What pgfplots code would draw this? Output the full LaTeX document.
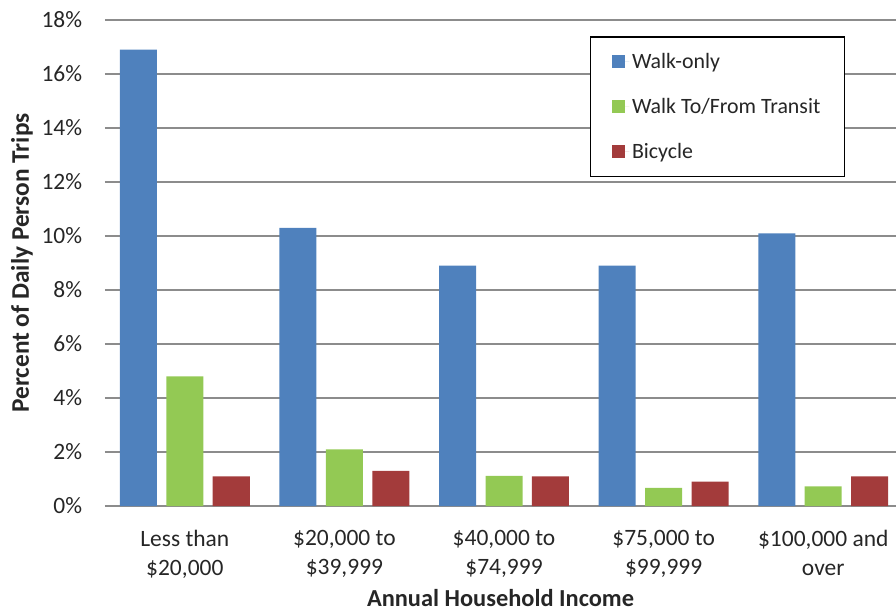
\documentclass[border=0pt]{standalone}
\usepackage{pgfplots}
\pgfplotsset{compat=1.18}
\usepackage{pgfplotstable}
\usepackage{fontspec}
\setmainfont{Carlito}

\definecolor{walk}{HTML}{4F81BD}
\definecolor{transit}{HTML}{93C954}
\definecolor{bike}{HTML}{A33B3B}
\definecolor{gridc}{HTML}{8C8C8C}
\definecolor{txt}{HTML}{262626}

% percent of daily person trips by household income
\pgfplotstableread{
x walk transit bike
0 16.9 4.8  1.1
1 10.3 2.1  1.3
2 8.9  1.12 1.1
3 8.9  0.67 0.9
4 10.1 0.73 1.1
}\trips

\begin{document}
\begin{tikzpicture}
\begin{axis}[
    at={(0,0)}, anchor=south west,
    scale only axis, width=593.25pt, height=364.5pt,
    xmin=-0.5, xmax=4.456, ymin=0, ymax=18,
    ybar, bar width=0.232,
    axis line style={draw=none}, tick style={draw=none},
    ymajorgrids, major grid style={draw=gridc, line width=1pt},
    ytick={0,2,...,18},
    yticklabels={0\%,2\%,4\%,6\%,8\%,10\%,12\%,14\%,16\%,18\%},
    xtick={0,1,2,3,4},
    xticklabels={{Less than\\\$20,000},{\$20,000 to\\\$39,999},{\$40,000 to\\\$74,999},{\$75,000 to\\\$99,999},{\$100,000 and\\over}},
    tick label style={font=\fontsize{17.6}{21.75}\selectfont, text=txt},
    yticklabel style={anchor=east, inner sep=0pt, xshift=-17pt},
    xticklabel style={align=center, anchor=north, inner sep=0pt, yshift=-14pt},
    xlabel={Annual Household Income},
    xlabel style={at={(axis description cs:0.5,0)}, anchor=base, yshift=-75.5pt, font=\fontsize{18.3}{20}\selectfont\bfseries, text=txt},
    ylabel={Percent of Daily Person Trips},
    ylabel style={at={(axis description cs:-0.105,0.5)}, anchor=center, font=\fontsize{19}{21}\selectfont\bfseries, text=txt},
    legend style={at={(axis description cs:0.613,0.967)}, anchor=north west, draw=black, line width=1.2pt, fill=white,
        font=\fontsize{16.4}{19}\selectfont, text=txt, inner xsep=16pt, inner ysep=10pt, row sep=17pt},
    legend cell align=left,
    legend image code/.code={\fill[#1] (0pt,-5pt) rectangle (10pt,5pt); \path (0pt,0pt) -- (13pt,0pt);},
]
\addplot[fill=walk, draw=none, bar shift=-0.291] table[x=x, y=walk]{\trips};
\addplot[fill=transit, draw=none, bar shift=0] table[x=x, y=transit]{\trips};
\addplot[fill=bike, draw=none, bar shift=0.291] table[x=x, y=bike]{\trips};
\legend{Walk-only, Walk To/From Transit, Bicycle}
\end{axis}
\pgfresetboundingbox
\path[use as bounding box] (-78.75pt,-78.75pt) rectangle (593.25pt,379.5pt);
\end{tikzpicture}
\end{document}
